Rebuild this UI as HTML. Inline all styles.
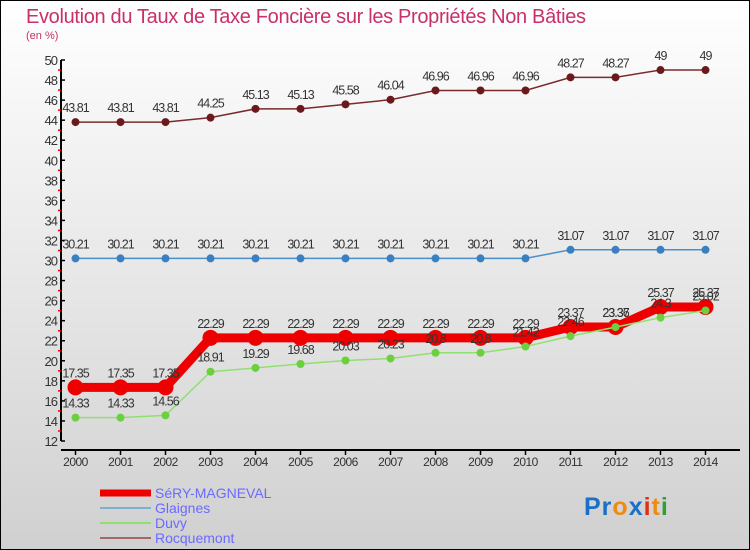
<!DOCTYPE html>
<html><head><meta charset="utf-8"><style>
body{margin:0;width:750px;height:550px;overflow:hidden}
#c{position:absolute;left:0;top:0;width:748px;height:548px;border:1px solid #000;background:linear-gradient(#ffffff,#d0d0d0)}
svg{position:absolute;left:0;top:0}
text{font-family:"Liberation Sans",sans-serif}
</style></head><body>
<div id="c"></div>
<svg id="s" width="750" height="550">
<text x="26" y="23" font-size="20" fill="#c8306a" textLength="560">Evolution du Taux de Taxe Foncière sur les Propriétés Non Bâties</text>
<text x="26" y="39" font-size="11" fill="#c8306a">(en %)</text>
<g>
<line x1="100" y1="493" x2="151" y2="493" stroke="#e00" stroke-width="7"/>
<text x="155" y="498" font-size="14" fill="#6a6aff">SéRY-MAGNEVAL</text>
<line x1="100" y1="508" x2="151" y2="508" stroke="#7ab0d0" stroke-width="2"/>
<text x="155" y="513" font-size="14" fill="#6a6aff">Glaignes</text>
<line x1="100" y1="523" x2="151" y2="523" stroke="#90e070" stroke-width="2"/>
<text x="155" y="528" font-size="14" fill="#6a6aff">Duvy</text>
<line x1="100" y1="538" x2="151" y2="538" stroke="#a06868" stroke-width="2"/>
<text x="155" y="543" font-size="14" fill="#6a6aff">Rocquemont</text>
</g>
<text x="584" y="515" font-size="25" font-weight="bold" letter-spacing="1"><tspan fill="#1a70c8">Pr</tspan><tspan fill="#f08a10">o</tspan><tspan fill="#1a70c8">x</tspan><tspan fill="#e03010">i</tspan><tspan fill="#f08a10">t</tspan><tspan fill="#30a030">i</tspan></text>
<g id="g"></g>
</svg>
<script>
const years=[2000,2001,2002,2003,2004,2005,2006,2007,2008,2009,2010,2011,2012,2013,2014];
const sery=[17.35,17.35,17.35,22.29,22.29,22.29,22.29,22.29,22.29,22.29,22.29,23.37,23.37,25.37,25.37];
const glaignes=[30.21,30.21,30.21,30.21,30.21,30.21,30.21,30.21,30.21,30.21,30.21,31.07,31.07,31.07,31.07];
const duvy=[14.33,14.33,14.56,18.91,19.29,19.68,20.03,20.23,20.8,20.8,21.42,22.46,23.36,24.3,25.02];
const rocq=[43.81,43.81,43.81,44.25,45.13,45.13,45.58,46.04,46.96,46.96,46.96,48.27,48.27,49,49];
const yTicks=[12,14,16,18,20,22,24,26,28,30,32,34,36,38,40,42,44,46,48,50];
const NS="http://www.w3.org/2000/svg";
const g=document.getElementById('g');
const X=i=>75.5+i*45;
const Y=v=>441-(v-12)*(381/38);
function el(t,a,p){const e=document.createElementNS(NS,t);for(const k in a)e.setAttribute(k,a[k]);(p||g).appendChild(e);return e;}
let ax=el('line',{x1:61,y1:60,x2:61,y2:441,stroke:'#000','stroke-width':2});


let xa=el('line',{x1:61,y1:450,x2:740,y2:450,stroke:'#000','stroke-width':2});


yTicks.forEach(v=>{
  el('line',{x1:61,y1:Y(v),x2:65,y2:Y(v),stroke:'#000','stroke-width':1.5});
  if(v<50)el('line',{x1:58,y1:Y(v+1),x2:61,y2:Y(v+1),stroke:'#e00','stroke-width':1.5});
  const t=el('text',{x:57,y:Y(v)+5,'font-size':13,fill:'#333','text-anchor':'end','letter-spacing':'-1'});
  t.textContent=v;
  
  
});
years.forEach((y,i)=>{
  el('line',{x1:X(i),y1:450,x2:X(i),y2:455,stroke:'#000','stroke-width':1.5});
  const t=el('text',{x:X(i),y:466,'font-size':12,fill:'#333','text-anchor':'middle','letter-spacing':'-0.5'});
  t.textContent=y;
  
  
});
function series(vals,color,w,r,dot,name){
  const p=el('polyline',{points:vals.map((v,i)=>X(i)+','+Y(v)).join(' '),fill:'none',stroke:color,'stroke-width':w});
  
  
  vals.forEach((v,i)=>{
    const c=el('circle',{cx:X(i),cy:Y(v),r:r,fill:dot});
    
    
    const t=el('text',{x:X(i),y:Y(v)-10,'font-size':12.5,fill:'#333','text-anchor':'middle','letter-spacing':'-1'});
    t.textContent=v;
    
    
  });
}
series(rocq,'#7a2a2a',1.5,4,'#6a1a1a','rocquemont');
series(glaignes,'#4a90c8',1.5,4,'#3a80c0','glaignes');
series(sery,'#ee0000',9,8,'#ee0000','sery');
series(duvy,'#90e070',1.5,4,'#6ad040','duvy');
</script>
</body></html>
